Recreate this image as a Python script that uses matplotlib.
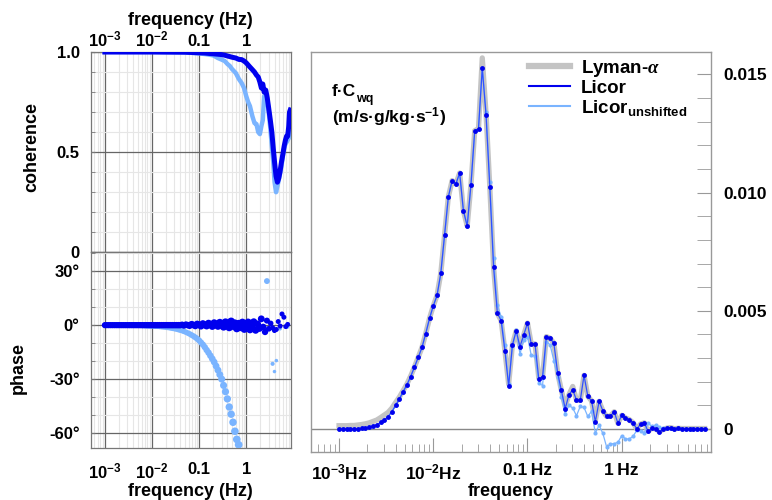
import numpy as np
import matplotlib
matplotlib.use("Agg")
import matplotlib.pyplot as plt
from matplotlib.ticker import LogLocator, FixedLocator, MultipleLocator, NullFormatter, FixedFormatter
from matplotlib.lines import Line2D

# ---------------- data ----------------
# spectral frequencies (Hz), log-spaced, 25 per decade
FREQ = [
    0.001000, 0.001096, 0.001202, 0.001318, 0.001445, 0.001585, 0.001738, 0.001905, 0.002089, 0.002291,
    0.002512, 0.002754, 0.003020, 0.003311, 0.003631, 0.003981, 0.004365, 0.004786, 0.005248, 0.005754,
    0.006310, 0.006918, 0.007586, 0.008318, 0.009120,
    0.01000, 0.01096, 0.01202, 0.01318, 0.01445, 0.01585, 0.01738, 0.01905, 0.02089, 0.02291,
    0.02512, 0.02754, 0.03020, 0.03311, 0.03631, 0.03981, 0.04365, 0.04786, 0.05248, 0.05754,
    0.06310, 0.06918, 0.07586, 0.08318, 0.09120,
    0.1000, 0.1096, 0.1202, 0.1318, 0.1445, 0.1585, 0.1738, 0.1905, 0.2089, 0.2291,
    0.2512, 0.2754, 0.3020, 0.3311, 0.3631, 0.3981, 0.4365, 0.4786, 0.5248, 0.5754,
    0.6310, 0.6918, 0.7586, 0.8318, 0.9120,
    1.000, 1.096, 1.202, 1.318, 1.445, 1.585, 1.738, 1.905, 2.089, 2.291,
    2.512, 2.754, 3.020, 3.311, 3.631, 3.981, 4.365, 4.786, 5.248, 5.754,
    6.310, 6.918, 7.586,
]

# frequency-weighted cospectrum f*C_wq
LICOR = [
    0.00000, 0.00000, 0.00000, 0.00000, 0.00000, 0.00001, 0.00003, 0.00005, 0.00008, 0.00013,
    0.00018, 0.00028, 0.00039, 0.00052, 0.00073, 0.00100, 0.00127, 0.00158, 0.00187, 0.00222,
    0.00262, 0.00303, 0.00345, 0.00404, 0.00468, 0.00521, 0.00565, 0.00659, 0.00821, 0.00982,
    0.01051, 0.01037, 0.01083, 0.00923, 0.00859, 0.01034, 0.01262, 0.01271, 0.01527, 0.01328,
    0.01024, 0.00685, 0.00490, 0.00459, 0.00332, 0.00182, 0.00356, 0.00415, 0.00349, 0.00398,
    0.00448, 0.00360, 0.00360, 0.00211, 0.00222, 0.00391, 0.00384, 0.00363, 0.00237, 0.00163,
    0.00086, 0.00145, 0.00166, 0.00122, 0.00121, 0.00227, 0.00139, 0.00119, 0.00031, 0.00117,
    0.00077, 0.00053, 0.00055, 0.00073, 0.00024, 0.00058, 0.00047, 0.00040, 0.00027, 0.00000,
    0.00021, 0.00026, -0.00010, 0.00003, 0.00001, -0.00011, -0.00002, 0.00004, 0.00006, 0.00001,
    0.00003, 0.00002, 0.00002, 0.00002, 0.00002, 0.00002, 0.00002, 0.00002,
]

LICOR_UNSHIFTED = [
    0.00000, 0.00000, 0.00000, 0.00000, 0.00000, 0.00001, 0.00003, 0.00005, 0.00008, 0.00013,
    0.00018, 0.00028, 0.00039, 0.00052, 0.00073, 0.00100, 0.00127, 0.00158, 0.00187, 0.00222,
    0.00262, 0.00303, 0.00345, 0.00404, 0.00468, 0.00521, 0.00565, 0.00659, 0.00821, 0.00982,
    0.01051, 0.01037, 0.01083, 0.00923, 0.00859, 0.01034, 0.01262, 0.01271, 0.01527, 0.01342,
    0.01046, 0.00723, 0.00525, 0.00475, 0.00356, 0.00190, 0.00350, 0.00420, 0.00318, 0.00377,
    0.00391, 0.00312, 0.00310, 0.00194, 0.00184, 0.00370, 0.00356, 0.00289, 0.00222, 0.00135,
    0.00065, 0.00100, 0.00089, 0.00056, 0.00096, 0.00091, 0.00053, 0.00075, -0.00017, 0.00016,
    -0.00019, -0.00076, -0.00063, -0.00062, -0.00056, -0.00028, -0.00042, -0.00042, -0.00031, -0.00006,
    -0.00010, -0.00015, 0.00025, 0.00011, 0.00017, 0.00008, 0.00004, 0.00004, 0.00006, 0.00001,
    0.00003, 0.00002, 0.00002, 0.00002, 0.00002, 0.00002, 0.00002, 0.00002,
]

LYMAN = [
    0.00014, 0.00014, 0.00014, 0.00015, 0.00015, 0.00017, 0.00019, 0.00022, 0.00026, 0.00032,
    0.00038, 0.00048, 0.00059, 0.00070, 0.00088, 0.00112, 0.00135, 0.00162, 0.00190, 0.00224,
    0.00262, 0.00303, 0.00345, 0.00404, 0.00468, 0.00521, 0.00565, 0.00659, 0.00821, 0.00982,
    0.01051, 0.01037, 0.01083, 0.00923, 0.00859, 0.01034, 0.01262, 0.01271, 0.01570, 0.01335,
    0.01024, 0.00685, 0.00490, 0.00459, 0.00332, 0.00190, 0.00356, 0.00415, 0.00349, 0.00398,
    0.00448, 0.00360, 0.00360, 0.00215, 0.00222, 0.00391, 0.00384, 0.00363, 0.00237, 0.00163,
    0.00095, 0.00145, 0.00180, 0.00122, 0.00121, 0.00227, 0.00139, 0.00119, 0.00035, 0.00117,
    0.00077, 0.00053, 0.00055, 0.00073, 0.00024, 0.00058, 0.00047, 0.00040, 0.00027, 0.00000,
    0.00021, 0.00026, -0.00010, 0.00003, 0.00001, -0.00011, -0.00002, 0.00004, 0.00006, 0.00001,
    0.00003, 0.00002, 0.00002, 0.00002, 0.00002, 0.00002, 0.00002, 0.00002,
]

# phase (degrees) on the same frequencies
PHASE_LICOR = [
    0, 0, 0, 0, 0, 0, 0, 0, 0, 0,
    0, 0, 0, 0, 0, 0, 0, 0, 0, 0,
    0, 0, 0, 0, 0, 0, 0, 0, 0, 0,
    0, 0, 0, 0, 0, 0, 0, 0, 0, 0,
    0, 0.2, -0.2, 0.3, 0.0, -0.3, 0.5, 0.1, -0.4, 0.6,
    0.2, -0.5, 0.8, 0.2, -0.4, 1.0, 0.3, -0.6, 1.2, 0.4,
    -0.5, 1.4, 0.2, -0.9, 1.6, 0.5, -1.2, 2.0, -0.4, 1.0,
    -1.8, 0.8, -1.2, 1.5, -2.2, 0.4, 1.6, -2.5, -0.8, 1.8,
    -2.8, 0.6, -1.8, 3.5, -1.0, -3.8, 2.5, -2.0, 1.0, -1.5,
    -3.0, -2.4, 2.0, -0.5, 6.2, 4.4, -0.8, 0.4,
]

nan = float("nan")
PHASE_UNSHIFTED = [
    0, 0, 0, 0, 0, 0, 0, 0, 0, 0,
    0, 0, 0, 0, 0, 0, 0, 0, 0, 0,
    -0.3, -0.3, -0.4, -0.4, -0.5, -0.5, -0.6, -0.7, -0.7, -0.8,
    -0.9, -1.0, -1.1, -1.3, -1.4, -1.6, -1.8, -2.0, -2.2, -2.5,
    -2.8, -3.1, -3.5, -3.9, -4.4, -4.9, -5.5, -6.1, -6.8, -7.6,
    -8.5, -9.6, -10.8, -12.2, -13.8, -15.3, -17.0, -18.7, -20.5, -22.7,
    -25.0, -27.5, -30.0, -33.5, -37.0, -41.0, -45.5, -49.5, -54.0, -59.0,
    -63.5, -66.5, nan, nan, nan, nan, nan, nan, nan, nan,
    nan, nan, nan, nan, nan, nan, 24.5, nan, nan, -21.5,
    -25.8, -19.7, nan, -2.0, nan, nan, nan, -1.0,
]

# coherence
COH_FREQ = [0.001, 0.01, 0.05, 0.1, 0.13, 0.16, 0.2, 0.25, 0.3, 0.35, 0.4, 0.45, 0.5, 0.6, 0.7,
            0.8, 0.9, 1.0, 1.1, 1.2, 1.35, 1.5, 1.65, 1.8, 1.95, 2.1, 2.25, 2.4, 2.6, 2.8,
            3.0, 3.25, 3.5, 3.75, 4.0, 4.3, 4.6, 4.9, 5.2, 5.6, 6.0, 6.4, 6.8, 7.2, 7.6,
            8.0, 8.3, 8.6]
COH_LICOR = [1.0, 1.0, 0.999, 0.996, 0.995, 0.993, 0.991, 0.989, 0.987, 0.984, 0.980, 0.977, 0.974,
             0.970, 0.963, 0.962, 0.955, 0.946, 0.935, 0.925, 0.912, 0.900, 0.885, 0.875, 0.850,
             0.820, 0.840, 0.800, 0.810, 0.770, 0.720, 0.660, 0.600, 0.520, 0.450, 0.380, 0.350,
             0.370, 0.400, 0.450, 0.490, 0.530, 0.560, 0.580, 0.580, 0.630, 0.700, 0.710]
COH_UNSHIFTED = [1.0, 1.0, 0.998, 0.993, 0.990, 0.987, 0.983, 0.970, 0.962, 0.955, 0.940, 0.930,
                 0.915, 0.895, 0.865, 0.845, 0.820, 0.780, 0.750, 0.730, 0.680, 0.645, 0.640,
                 0.600, 0.590, 0.630, 0.660, 0.780, 0.790, 0.760, 0.700, 0.620, 0.530, 0.450,
                 0.350, 0.300, 0.330, 0.360, 0.390, 0.430, 0.480, 0.520, 0.540, 0.550, 0.560,
                 0.570, 0.600, 0.600]

XTICKS = [1e-3, 1e-2, 0.1, 1]
XTICK_LABELS_LEFT = ["$10^{-3}$", "$10^{-2}$", "0.1", "1"]
XTICK_LABELS_RIGHT = ["$10^{-3}$Hz", "$10^{-2}$Hz", "0.1\u2009Hz", "1\u2009Hz"]

# ---------------- style ----------------
plt.rcParams["font.family"] = ["Liberation Sans", "DejaVu Sans"]
plt.rcParams["font.weight"] = "bold"
plt.rcParams["mathtext.fontset"] = "custom"
plt.rcParams["mathtext.rm"] = "Liberation Sans:bold"
plt.rcParams["mathtext.bf"] = "Liberation Sans:bold"
plt.rcParams["mathtext.sf"] = "Liberation Sans:bold"
plt.rcParams["mathtext.it"] = "Liberation Serif:italic"
plt.rcParams["mathtext.default"] = "bf"

DARK = "#0000ee"
DARK_LINE = "#3050ff"
LIGHT = "#7ab4ff"
GRAY = "#c4c4c4"
FRAME = "#999999"

W, H = 772, 500
fig = plt.figure(figsize=(W / 100, H / 100), dpi=100)

def box(x0, y0, x1, y1):
    return [x0 / W, 1 - y1 / H, (x1 - x0) / W, (y1 - y0) / H]

XLIM = (5.0e-4, 8.8)

ax_coh = fig.add_axes(box(90.7, 52, 290.7, 252.3))
ax_ph = fig.add_axes(box(90.7, 252.3, 290.7, 448))
ax_r = fig.add_axes(box(310.7, 52, 710.7, 451.7))

freq = np.array(FREQ)
logf = np.log10(freq)

# ---- coherence ----
ax_coh.plot(COH_FREQ, COH_UNSHIFTED, color=LIGHT, lw=3.2, zorder=3)
ax_coh.plot(COH_FREQ, COH_LICOR, color=DARK, lw=3.6, zorder=4)
ax_coh.set_ylim(0, 1.0)
ax_coh.yaxis.set_major_locator(FixedLocator([0, 0.5, 1.0]))
ax_coh.yaxis.set_major_formatter(FixedFormatter(["0", "0.5", "1.0"]))
ax_coh.yaxis.set_minor_locator(MultipleLocator(0.1))

# ---- phase ----
d_dark = np.interp(logf, [-3, -1.3, -0.3, 0.3, 0.6, 0.9], [6.2, 6.5, 8, 7, 5, 5])
d_light = np.interp(logf, [-3, -1.3, -0.3, 0.0, 0.4, 0.5, 0.6, 0.9], [5, 5.5, 7.5, 8, 6.5, 5, 3.5, 3.5])
ax_ph.scatter(freq, PHASE_UNSHIFTED, s=(d_light * 0.72) ** 2, color=LIGHT, lw=0, zorder=3)
ax_ph.scatter(freq, PHASE_LICOR, s=(d_dark * 0.72) ** 2, color=DARK, lw=0, zorder=4)
ax_ph.set_ylim(-68.3, 40.5)
ax_ph.yaxis.set_major_locator(FixedLocator([-60, -30, 0, 30]))
ax_ph.yaxis.set_major_formatter(FixedFormatter(["-60°", "-30°", "0°", "30°"]))
ax_ph.yaxis.set_minor_locator(MultipleLocator(10))

for ax in (ax_coh, ax_ph):
    ax.set_xscale("log")
    ax.set_xlim(*XLIM)
    ax.xaxis.set_major_locator(FixedLocator(XTICKS))
    ax.xaxis.set_major_formatter(FixedFormatter(XTICK_LABELS_LEFT))
    ax.xaxis.set_minor_locator(LogLocator(base=10, subs=range(2, 10), numticks=20))
    ax.xaxis.set_minor_formatter(NullFormatter())
    ax.set_axisbelow(True)
    ax.grid(which="minor", color="#e6e6e6", lw=0.8)
    ax.grid(which="major", color="#666666", lw=0.9)
    for s in ax.spines.values():
        s.set_color("#777777")
        s.set_linewidth(0.9)
    ax.tick_params(axis="y", which="both", direction="in", length=3, color="#777777",
                   labelsize=12, pad=8)
    ax.tick_params(axis="x", which="both", length=0, labelsize=12)

ax_coh.xaxis.tick_top()
ax_coh.xaxis.set_label_position("top")
ax_coh.tick_params(axis="x", which="both", top=True, bottom=False, labeltop=True,
                   labelbottom=False, pad=2)
ax_coh.set_xlabel("frequency (Hz)", fontsize=13, fontweight="bold", labelpad=3)
ax_ph.tick_params(axis="x", pad=10)
ax_ph.set_xlabel("frequency (Hz)", fontsize=13, fontweight="bold", labelpad=1)

fig.text(32 / W, 1 - 147 / H, "coherence", rotation=90, ha="center", va="center",
         fontsize=13, fontweight="bold")
fig.text(18 / W, 1 - 368 / H, "phase", rotation=90, ha="center", va="center",
         fontsize=13, fontweight="bold")

# ---- cospectra ----
ax_r.axhline(0, color="#888888", lw=1.0, zorder=1)
ax_r.plot(freq, LYMAN, color=GRAY, lw=3.8, zorder=2)
ax_r.plot(freq, LICOR_UNSHIFTED, color=LIGHT, lw=0.9, marker="o", ms=3.0, mec="none", zorder=3)
ax_r.plot(freq, LICOR, color=DARK_LINE, lw=0.9, zorder=4)
ax_r.plot(freq, LICOR, ls="none", marker="o", ms=3.5, mfc=DARK, mec="none", zorder=5)

ax_r.set_xscale("log")
ax_r.set_xlim(*XLIM)
ax_r.set_ylim(-0.00096, 0.01595)
ax_r.xaxis.set_major_locator(FixedLocator(XTICKS))
ax_r.xaxis.set_major_formatter(FixedFormatter(XTICK_LABELS_RIGHT))
ax_r.xaxis.set_minor_locator(LogLocator(base=10, subs=range(2, 10), numticks=20))
ax_r.xaxis.set_minor_formatter(NullFormatter())
ax_r.yaxis.tick_right()
ax_r.yaxis.set_major_locator(FixedLocator([0, 0.005, 0.010, 0.015]))
ax_r.yaxis.set_major_formatter(FixedFormatter(["0", "0.005", "0.010", "0.015"]))
ax_r.yaxis.set_minor_locator(MultipleLocator(0.001))
ax_r.tick_params(axis="y", which="both", direction="in", length=10, color=FRAME,
                 left=False, right=True, labelleft=False, labelright=True, labelsize=12.5, pad=9)
ax_r.tick_params(axis="x", which="major", direction="in", length=10, color=FRAME,
                 labelsize=12.5, pad=8, top=False)
ax_r.tick_params(axis="x", which="minor", direction="in", length=6, color=FRAME, top=False)
for s in ax_r.spines.values():
    s.set_color(FRAME)
    s.set_linewidth(1.0)
ax_r.set_xlabel("frequency", fontsize=13, fontweight="bold", labelpad=0)

t1 = ax_r.text(0.052, 0.890, "f\u00b7C", transform=ax_r.transAxes,
               ha="left", va="baseline", fontsize=12.5, fontweight="bold")
ax_r.annotate("wq", xy=(1, 0), xycoords=t1, xytext=(0.6, -2.0), textcoords="offset points",
              ha="left", va="baseline", fontsize=9, fontweight="bold")
ax_r.text(0.052, 0.825, "(m/s\u00b7g/kg\u00b7s$^{-1}$)", transform=ax_r.transAxes,
          ha="left", va="baseline", fontsize=12.5, fontweight="bold")

handles = [Line2D([], [], color=GRAY, lw=4.5),
           Line2D([], [], color=DARK, lw=1.5),
           Line2D([], [], color=LIGHT, lw=1.5)]
labels = ["Lyman-$\\mathit{\\alpha}$", "Licor", "Licor$_{unshifted}$"]
ax_r.legend(handles, labels, loc="upper left", bbox_to_anchor=(0.545, 0.985), frameon=False,
            fontsize=13.5, handlelength=2.2, handletextpad=0.6, labelspacing=0.05,
            borderpad=0, borderaxespad=0)

fig.savefig("out.png", dpi=100)
